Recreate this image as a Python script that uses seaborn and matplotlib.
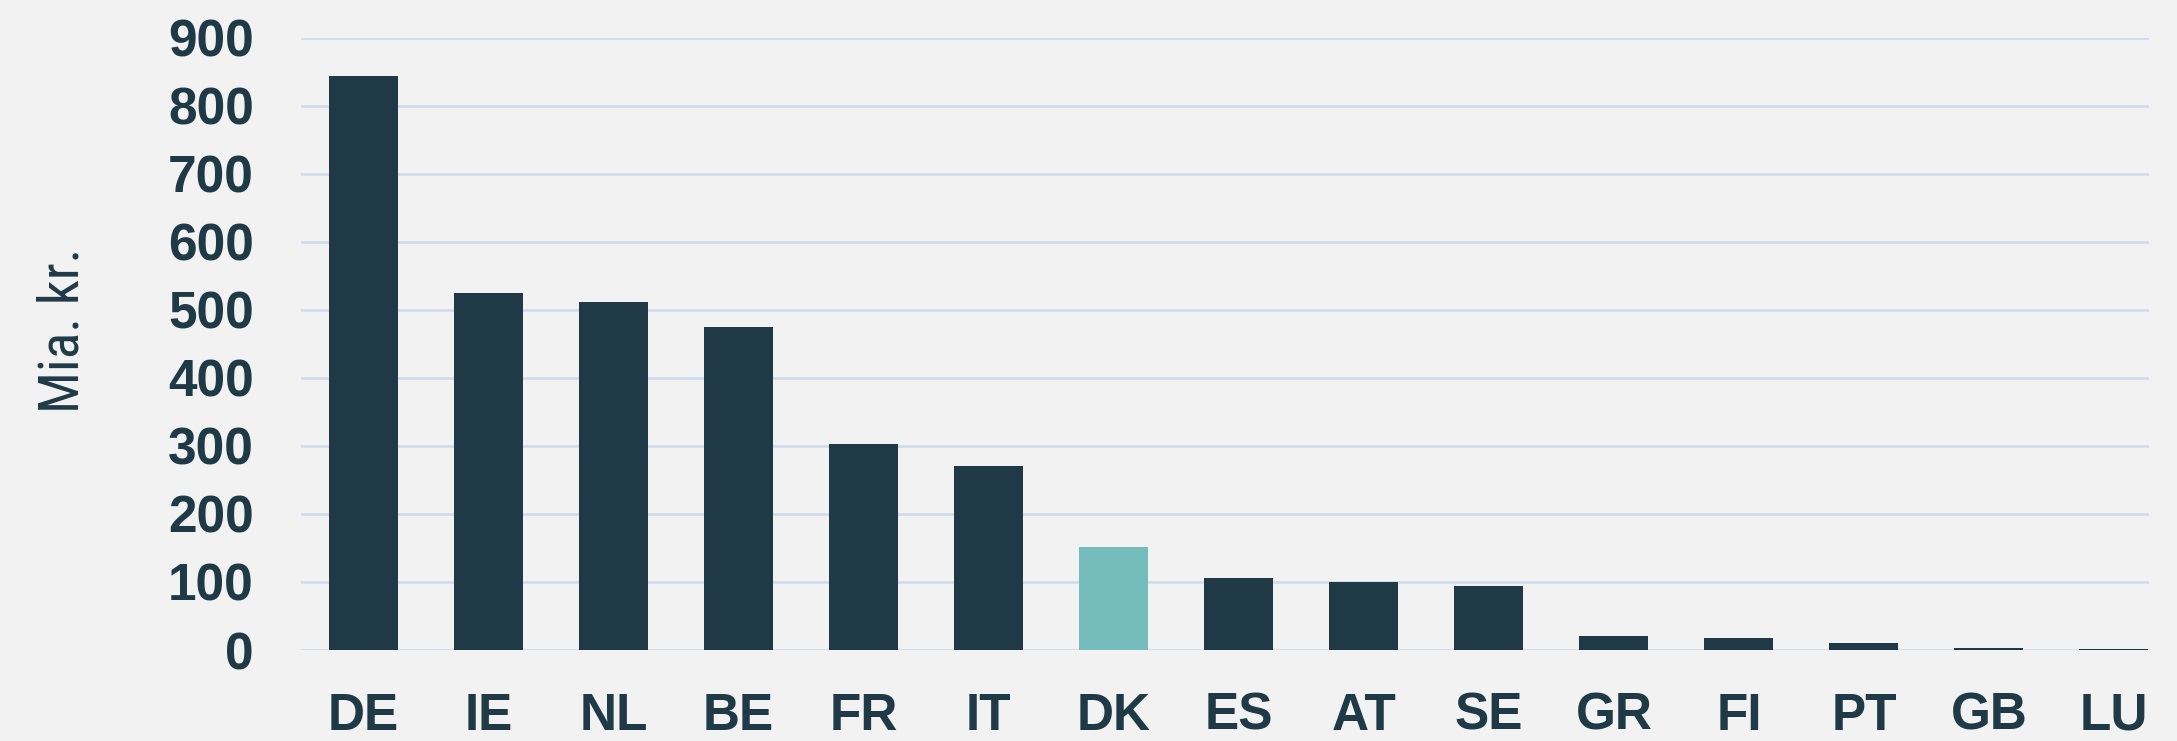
import matplotlib
matplotlib.use("Agg")
import matplotlib.pyplot as plt
import seaborn as sns

countries = ["DE", "IE", "NL", "BE", "FR", "IT", "DK", "ES", "AT", "SE", "GR", "FI", "PT", "GB", "LU"]
values = [843, 525, 512, 475, 303, 270, 152, 106, 100, 94, 21, 17, 11, 3, 2]
highlight = "DK"
y_ticks = [0, 100, 200, 300, 400, 500, 600, 700, 800, 900]

dark = "#1f3a46"
teal = "#74bdbc"
bg = "#f2f2f2"
grid = "#d2dcec"

sns.set_theme(style="white")
plt.rcParams["font.family"] = ["Liberation Sans", "DejaVu Sans"]

palette = {c: (teal if c == highlight else dark) for c in countries}

fig = plt.figure(figsize=(21.77, 7.41), dpi=100, facecolor=bg)
ax = fig.add_axes([301 / 2177, 1 - 650 / 741, (2149 - 301) / 2177, (650 - 37.5) / 741])
ax.set_facecolor(bg)

sns.barplot(x=countries, y=values, hue=countries, palette=palette, legend=False,
            width=0.552, saturation=1, edgecolor="none", ax=ax, zorder=3)

ax.set_ylim(0, 900)
ax.set_xlim(-0.5, 14.28)
ax.set_yticks(y_ticks)
ax.yaxis.grid(True, color=grid, linewidth=2, zorder=0)
ax.set_axisbelow(True)
for s in ax.spines.values():
    s.set_visible(False)

ax.tick_params(axis="y", length=0, pad=34, labelsize=37, labelcolor=dark)
ax.tick_params(axis="x", length=0, pad=30, labelsize=37, labelcolor=dark)
for lbl in ax.get_xticklabels() + ax.get_yticklabels():
    lbl.set_fontweight("bold")

ax.set_xlabel("")
ax.set_ylabel("")
fig.text(63 / 2177, 1 - 330 / 741, "Mia. kr.", rotation=90, ha="center", va="center",
         fontsize=40, color=dark, fontstretch="condensed",
         family=["Liberation Sans Narrow", "Roboto Condensed", "DejaVu Sans"])

fig.savefig("out.png", dpi=100, facecolor=bg)
